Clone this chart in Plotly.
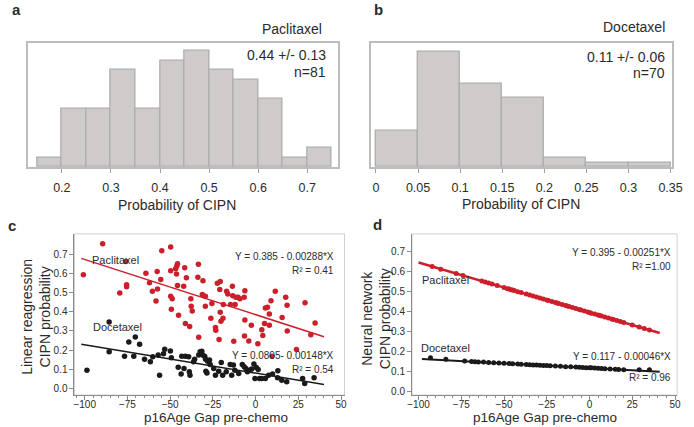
import plotly.graph_objects as go

W, H = 694, 427

# ---- histogram data (a: paclitaxel, b: docetaxel) ----
pac_bin_left = [0.15, 0.20, 0.25, 0.30, 0.35, 0.40, 0.45, 0.50, 0.55, 0.60, 0.65, 0.70]
pac_counts = [1, 6, 6, 10, 6, 11, 12, 10, 9, 7, 1, 2]
doc_bin_left = [0.00, 0.05, 0.10, 0.15, 0.20, 0.25, 0.30]
doc_counts = [8, 25, 18, 15, 2, 1, 1]
pac_ticks = [0.2, 0.3, 0.4, 0.5, 0.6, 0.7]
doc_ticks = [0, 0.05, 0.1, 0.15, 0.2, 0.25, 0.3, 0.35]

# ---- panel c: linear regression probabilities ----
c_pac_x = [-100.8, -89.5, -79.5, -75.9, -75.5, -75.5, -64.2, -62.1, -60.4, -58.3,
           -57.6, -57.4, -55.5, -54.9, -49.7, -49.7, -49.7, -48.8, -49.3, -46.8,
           -46.1, -45.7, -46.3, -45.7, -45.1, -42.1, -41.5, -41.1, -40.5, -38.6,
           -37.9, -37.7, -37.1, -33.8, -33.5, -33.3, -31.2, -30.8, -29.4, -29.4,
           -26.2, -25.6, -23.5, -23.3, -22.4, -21.4, -21.0, -20.7, -20.7, -20.3,
           -19.1, -18.9, -17.0, -16.3, -14.7, -13.6, -13.4, -12.8, -12.0, -11.5,
           -10.3, -9.2, -6.7, -6.3, -6.3, -6.5, -4.0, -2.5, 1.3, 3.6,
           4.2, 5.2, 5.7, 6.9, 8.0, 8.0, 9.0, 9.6, 11.5, 15.5,
           17.6, 18.4, 18.5, 23.9, 28.9, 32.3, 34.8]
c_pac_y = [0.594, 0.755, 0.498, 0.663, 0.542, 0.531, 0.601, 0.552, 0.507, 0.457,
           0.611, 0.519, 0.569, 0.719, 0.738, 0.615, 0.481, 0.469, 0.413, 0.625,
           0.639, 0.651, 0.597, 0.538, 0.382, 0.533, 0.630, 0.339, 0.578, 0.323,
           0.469, 0.429, 0.405, 0.580, 0.648, 0.267, 0.490, 0.562, 0.481, 0.429,
           0.366, 0.443, 0.318, 0.304, 0.549, 0.255, 0.517, 0.559, 0.398, 0.351,
           0.366, 0.438, 0.507, 0.493, 0.438, 0.533, 0.484, 0.247, 0.438, 0.476,
           0.476, 0.469, 0.476, 0.510, 0.358, 0.274, 0.248, 0.330, 0.234, 0.306,
           0.276, 0.339, 0.420, 0.424, 0.330, 0.389, 0.458, 0.168, 0.507, 0.370,
           0.476, 0.434, 0.300, 0.203, 0.448, 0.280, 0.342]
c_doc_x = [-98.7, -85.7, -85.7, -74.2, -70.4, -76.7, -67.9, -71.3, -65.0, -61.6,
           -60.2, -56.2, -57.0, -53.9, -53.2, -49.9, -49.3, -45.3, -43.2, -43.6,
           -41.9, -41.1, -39.2, -38.8, -38.4, -36.3, -35.7, -33.3, -32.5, -31.5,
           -31.0, -29.8, -29.3, -28.1, -29.1, -28.5, -27.0, -26.6, -24.5, -23.5,
           -21.6, -20.1, -19.3, -17.2, -14.9, -14.0, -13.0, -12.2, -9.9, -7.8,
           -6.7, -5.7, -4.8, -3.3, -2.3, -1.0, -0.4, 0.4, 1.5, 2.3,
           3.6, 5.7, 7.6, 9.9, 13.0, 12.8, 15.3, 18.2, 27.5, 28.7, 34.2]
c_doc_y = [0.095, 0.347, 0.191, 0.243, 0.269, 0.168, 0.231, 0.168, 0.153, 0.139,
           0.165, 0.069, 0.174, 0.181, 0.205, 0.196, 0.160, 0.111, 0.168, 0.075,
           0.104, 0.168, 0.165, 0.087, 0.069, 0.139, 0.153, 0.174, 0.191, 0.194,
           0.174, 0.168, 0.153, 0.142, 0.090, 0.080, 0.148, 0.125, 0.104, 0.069,
           0.090, 0.135, 0.069, 0.087, 0.125, 0.069, 0.122, 0.095, 0.078, 0.125,
           0.113, 0.104, 0.087, 0.095, 0.102, 0.127, 0.052, 0.109, 0.099, 0.052,
           0.052, 0.052, 0.069, 0.075, 0.092, 0.056, 0.043, 0.035, 0.052, 0.026, 0.056]
c_pac_fit_x = [-102, 40]
c_pac_fit_y = [0.679, 0.270]
c_doc_fit_x = [-102, 40]
c_doc_fit_y = [0.231, 0.021]

# ---- panel d: neural network probabilities ----
d_pac_x = [-92, -87, -78, -74, -63, -61, -59, -57, -54, -50, -48, -47, -46, -45, -44,
           -42, -40, -37, -35, -33, -31, -29, -27, -25, -24, -22, -20, -19, -18, -16,
           -14, -13, -12, -10, -8, -6, -5, -3, -1, 0, 1, 3, 5, 6, 7, 9, 11, 13, 14,
           16, 18, 20, 25, 29, 32, 35]
d_pac_y = [0.626, 0.613, 0.591, 0.581, 0.553, 0.548, 0.543, 0.538, 0.531, 0.521, 0.515,
           0.513, 0.510, 0.508, 0.506, 0.500, 0.495, 0.488, 0.483, 0.478, 0.473, 0.468,
           0.463, 0.458, 0.455, 0.450, 0.445, 0.443, 0.440, 0.435, 0.430, 0.428, 0.425,
           0.420, 0.415, 0.410, 0.408, 0.403, 0.398, 0.395, 0.392, 0.387, 0.382, 0.380,
           0.377, 0.372, 0.367, 0.362, 0.360, 0.355, 0.350, 0.345, 0.332, 0.322, 0.315,
           0.307]
d_doc_x = [-93, -84, -73, -69, -67, -65, -62, -59, -56, -53, -50, -47, -45, -42, -40,
           -37, -35, -33, -31, -29, -27, -25, -23, -20, -17, -14, -11, -8, -6, -4, -2,
           0, 1, 3, 5, 7, 9, 12, 15, 17, 20, 29, 35]
d_doc_y = [0.168, 0.160, 0.151, 0.149, 0.148, 0.147, 0.146, 0.144, 0.143, 0.141, 0.140,
           0.139, 0.138, 0.136, 0.135, 0.134, 0.133, 0.132, 0.131, 0.130, 0.129, 0.129,
           0.128, 0.126, 0.125, 0.123, 0.122, 0.121, 0.120, 0.119, 0.118, 0.117, 0.117,
           0.116, 0.115, 0.114, 0.113, 0.111, 0.110, 0.109, 0.108, 0.107, 0.108]
d_pac_fit_x = [-100, 41]
d_pac_fit_y = [0.646, 0.292]
d_doc_fit_x = [-98, 41]
d_doc_fit_y = [0.162, 0.098]

RED = "#cc1f2b"
BLK = "#1a1a1a"
TXT = "#2b2b2b"
FONT = "Liberation Sans, Arial, sans-serif"


def px(x):
    return x / W


def py(y):
    return 1 - y / H


fig = go.Figure()

# histograms
fig.add_trace(go.Bar(x=[b + 0.025 for b in pac_bin_left], y=pac_counts, width=0.05,
                     marker=dict(color="#cfcbcb", line=dict(color="#adadad", width=1.3)),
                     xaxis="x", yaxis="y", showlegend=False))
fig.add_trace(go.Bar(x=[b + 0.025 for b in doc_bin_left], y=doc_counts, width=0.05,
                     marker=dict(color="#cfcbcb", line=dict(color="#adadad", width=1.3)),
                     xaxis="x2", yaxis="y2", showlegend=False))

# panel c
fig.add_trace(go.Scatter(x=c_pac_x, y=c_pac_y, mode="markers",
                         marker=dict(color=RED, size=5.5), xaxis="x3", yaxis="y3", showlegend=False))
fig.add_trace(go.Scatter(x=c_doc_x, y=c_doc_y, mode="markers",
                         marker=dict(color=BLK, size=5.5), xaxis="x3", yaxis="y3", showlegend=False))
fig.add_trace(go.Scatter(x=c_pac_fit_x, y=c_pac_fit_y, mode="lines",
                         line=dict(color=RED, width=1.5), xaxis="x3", yaxis="y3", showlegend=False))
fig.add_trace(go.Scatter(x=c_doc_fit_x, y=c_doc_fit_y, mode="lines",
                         line=dict(color=BLK, width=1.5), xaxis="x3", yaxis="y3", showlegend=False))

# panel d
fig.add_trace(go.Scatter(x=d_pac_fit_x, y=d_pac_fit_y, mode="lines",
                         line=dict(color=RED, width=2.5), xaxis="x4", yaxis="y4", showlegend=False))
fig.add_trace(go.Scatter(x=d_doc_fit_x, y=d_doc_fit_y, mode="lines",
                         line=dict(color=BLK, width=2), xaxis="x4", yaxis="y4", showlegend=False))
fig.add_trace(go.Scatter(x=d_pac_x, y=d_pac_y, mode="markers",
                         marker=dict(color=RED, size=5), xaxis="x4", yaxis="y4", showlegend=False))
fig.add_trace(go.Scatter(x=d_doc_x, y=d_doc_y, mode="markers",
                         marker=dict(color=BLK, size=5), xaxis="x4", yaxis="y4", showlegend=False))

hist_x = dict(showline=True, mirror=True, linecolor="#bdbdbd", linewidth=1.5,
              ticks="outside", ticklen=4, tickcolor="#a0a0a0", showgrid=False, zeroline=False,
              ticklabelstandoff=4, tickfont=dict(size=12.5, color=TXT, family=FONT))
hist_y = dict(showline=True, mirror=True, linecolor="#bdbdbd", linewidth=1.5,
              showticklabels=False, ticks="", showgrid=False, zeroline=False)
sc_x = dict(showline=True, linecolor="#8a8a8a", linewidth=1, ticks="outside", ticklen=4,
            tickcolor="#8a8a8a", showgrid=False, zeroline=False, range=[-106, 52],
            tickvals=[-100, -75, -50, -25, 0, 25, 50], ticklabelstandoff=-4,
            minor=dict(dtick=5, ticks="outside", ticklen=2, tickcolor="#8a8a8a"),
            tickfont=dict(size=10, color=TXT, family=FONT))
sc_y = dict(showline=True, linecolor="#8a8a8a", linewidth=1, ticks="outside", ticklen=4,
            tickcolor="#8a8a8a", showgrid=False, zeroline=False,
            tickvals=[0, 0.1, 0.2, 0.3, 0.4, 0.5, 0.6, 0.7], tickformat=".1f",
            tickfont=dict(size=10, color=TXT, family=FONT))

fig.update_layout(
    width=W, height=H, margin=dict(l=0, r=0, t=0, b=0),
    paper_bgcolor="white", plot_bgcolor="white", bargap=0,
    font=dict(family=FONT, color=TXT),
    xaxis=dict(hist_x, domain=[px(23), px(340)], range=[0.13, 0.762], tickvals=pac_ticks,
               anchor="y"),
    yaxis=dict(hist_y, domain=[py(168), py(43)], range=[0, 12.8], anchor="x"),
    xaxis2=dict(hist_x, domain=[px(374), px(682)], range=[-0.006, 0.352], tickvals=doc_ticks,
                anchor="y2"),
    yaxis2=dict(hist_y, domain=[py(168), py(43)], range=[0, 27], anchor="x2"),
    xaxis3=dict(sc_x, domain=[px(71), px(347)], anchor="y3"),
    yaxis3=dict(sc_y, domain=[py(397), py(235)], range=[-0.035, 0.807], anchor="x3"),
    xaxis4=dict(sc_x, domain=[px(416), px(687)], range=[-103.8, 51.2], anchor="y4"),
    yaxis4=dict(sc_y, domain=[py(397), py(235)], range=[-0.02, 0.79], anchor="x4"),
)

# light frames around scatter panels
for x0, x1 in [(71, 347), (416, 687)]:
    fig.add_shape(type="rect", xref="paper", yref="paper", x0=px(x0), x1=px(x1),
                  y0=py(397), y1=py(235), line=dict(color="#cfcfcf", width=1), layer="below")


def note(text, x, y, size, xanchor="center", bold=False, angle=0):
    if bold:
        text = "<b>" + text + "</b>"
    fig.add_annotation(text=text, x=px(x), y=py(y), xref="paper", yref="paper",
                       xanchor=xanchor, yanchor="middle", showarrow=False, textangle=angle,
                       font=dict(size=size, color=TXT, family=FONT))


# panel letters
note("a", 12, 10, 15, bold=True)
note("b", 382, 10, 15, bold=True)
note("c", 7, 227, 15, bold=True)
note("d", 381, 226, 15, bold=True)

# panel a / b text
note("Paclitaxel", 293, 29, 14)
note("0.44 +/- 0.13", 330, 55, 14, xanchor="right")
note("n=81", 330, 72, 14, xanchor="right")
note("Docetaxel", 677, 27, 14, xanchor="right")
note("0.11 +/- 0.06", 677, 57, 14, xanchor="right")
note("n=70", 677, 73, 14, xanchor="right")
note("Probability of CIPN", 176, 206, 14)
note("Probability of CIPN", 527, 205, 14)

# panel c text
note("Linear reagression<br>CIPN probability", 31, 318, 14, angle=-90)
note("p16Age Gap pre-chemo", 216, 419, 13.5)
note("Paclitaxel", 87, 261, 11, xanchor="left")
note("Docetaxel", 88, 329, 11, xanchor="left")
note("Y = 0.385 - 0.00288*X", 338, 258, 10, xanchor="right")
note("R² = 0.41", 338, 272, 10, xanchor="right")
note("Y = 0.0805- 0.00148*X", 338, 357, 10, xanchor="right")
note("R² = 0.54", 338, 371, 10, xanchor="right")

# panel d text
note("Neural network<br>CIPN probability", 379, 320, 14, angle=-90)
note("p16Age Gap pre-chemo", 552, 419, 13.5)
note("Paclitaxel", 424, 281, 11, xanchor="left")
note("Docetaxel", 423, 350, 11, xanchor="left")
note("Y = 0.395 - 0.00251*X", 683, 254, 10, xanchor="right")
note("R² =1.00", 683, 268, 10, xanchor="right")
note("Y = 0.117 - 0.00046*X", 683, 358, 10, xanchor="right")
note("R² = 0.96", 683, 379, 10, xanchor="right")

# page has a default body margin; drop it so the fixed-size figure sits at 0,0
fig.write_html("out.html", config={"displayModeBar": False},
               post_script="document.body.style.margin='0';")
